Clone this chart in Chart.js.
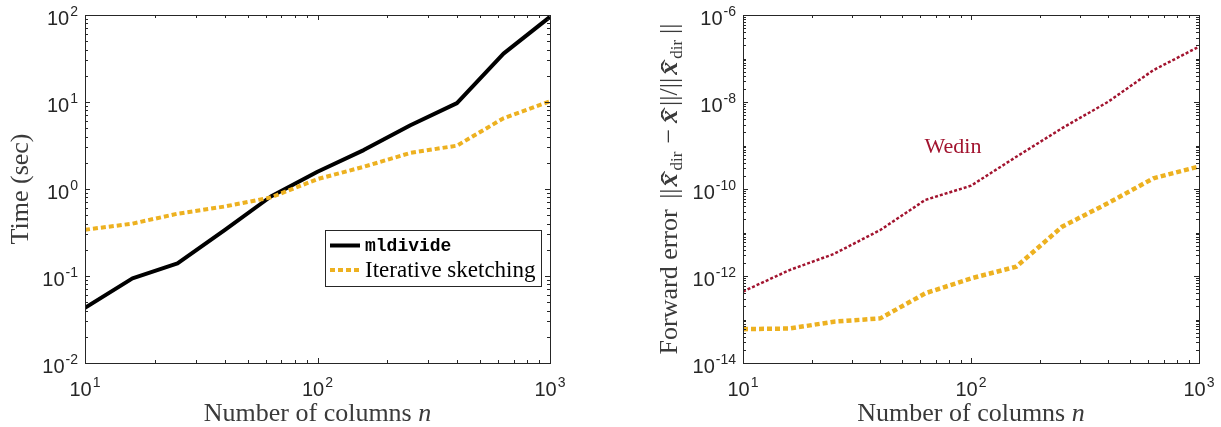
<!DOCTYPE html>
<html><head><meta charset="utf-8">
<script src="https://cdn.jsdelivr.net/npm/chart.js@4.4.0/dist/chart.umd.min.js"></script>
<style>
html,body{margin:0;padding:0;background:#fff;width:1221px;height:427px;overflow:hidden;}
#c1{position:absolute;left:0;top:0;}
#c2{position:absolute;left:610px;top:0;}
</style></head><body>
<canvas id="c1" width="610" height="427"></canvas>
<canvas id="c2" width="611" height="427"></canvas>
<script>
// ---------- data ----------
const columnsN = [10, 16, 25, 40, 63, 100, 158, 251, 398, 631, 1000];
const timeMldivide = [0.043, 0.094, 0.14, 0.34, 0.82, 1.58, 2.8, 5.4, 9.7, 36, 95];
const timeSketching = [0.34, 0.40, 0.52, 0.63, 0.80, 1.3, 1.8, 2.6, 3.15, 6.5, 10.2];
const errWedin = [4.4e-13, 1.37e-12, 3.2e-12, 1.14e-11, 5.6e-11, 1.19e-10, 5.5e-10, 2.5e-9, 1.0e-8, 5.4e-8, 1.87e-7];
const errSketching = [6.0e-14, 6.2e-14, 8.9e-14, 1.06e-13, 4.0e-13, 8.8e-13, 1.64e-12, 1.36e-11, 4.7e-11, 1.76e-10, 3.3e-10];
const xTickExps = [1, 2, 3];
const leftYTickExps = [-2, -1, 0, 1, 2];
const rightYTickExps = [-14, -12, -10, -8, -6];
const seriesLabels = ['mldivide', 'Iterative sketching'];
const annotationText = 'Wedin';

// ---------- styles ----------
const AX = '#262626';
const LBL = '#3a3a3a';
const YELLOW = '#EDB120';
const CRIMSON = '#A2142F';
const SANS = '"Liberation Sans", Arial, Helvetica, sans-serif';
const SERIF = '"Liberation Serif", "Times New Roman", serif';
const MONO = '"Liberation Mono", "DejaVu Sans Mono", monospace';

function pts(ys){ return columnsN.map((n,i)=>({x:n, y:ys[i]})); }

function drawPow(ctx, exp, x, y, align){
  const baseFont = '20px ' + SANS, expFont = '14px ' + SANS;
  const es = String(exp);
  ctx.font = baseFont; const wb = ctx.measureText('10').width;
  ctx.font = expFont; const we = ctx.measureText(es).width;
  const tot = wb + we + 1;
  let x0 = align === 'right' ? x - tot : (align === 'center' ? x - tot/2 : x);
  ctx.textAlign = 'left'; ctx.textBaseline = 'alphabetic';
  ctx.font = baseFont; ctx.fillText('10', x0, y);
  ctx.font = expFont; ctx.fillText(es, x0 + wb + 1, y - 9);
}

function drawRich(ctx, segs, cx, cy, rotate, color){
  let total = 0;
  segs.forEach(s => { ctx.font = s.font; s.w = ctx.measureText(s.t).width + (s.pad||0) + (s.pre||0); total += s.w; });
  ctx.save();
  ctx.translate(cx, cy);
  if (rotate) ctx.rotate(-Math.PI/2);
  ctx.fillStyle = color; ctx.textAlign = 'left'; ctx.textBaseline = 'alphabetic';
  let x = -total/2;
  segs.forEach(s => {
    ctx.font = s.font;
    const gx = x + (s.pre||0);
    ctx.fillText(s.t, gx, s.dy || 0);
    if (s.hat) {
      const gw = ctx.measureText(s.t).width;
      ctx.font = s.hatFont;
      const hw = ctx.measureText('\u02C6').width;
      ctx.save();
      ctx.translate(gx + gw/2 + 2, (s.dy||0) + 2);
      ctx.scale(1.7, 1);
      ctx.fillText('\u02C6', -hw/2, 0);
      ctx.restore();
    }
    x += s.w;
  });
  ctx.restore();
}

function axesPlugin(o){
  return {
    id: 'matlabAxes' + o.key,
    afterDatasetsDraw(chart){
      const ctx = chart.ctx, a = chart.chartArea;
      const xs = chart.scales.x, ys = chart.scales.y;
      ctx.save();
      ctx.strokeStyle = AX; ctx.lineWidth = 1;
      ctx.strokeRect(Math.round(a.left)+0.5, Math.round(a.top)+0.5, Math.round(a.right-a.left), Math.round(a.bottom-a.top));
      ctx.beginPath();
      const xmin = Math.log10(xs.min), xmax = Math.log10(xs.max);
      for (let e = Math.floor(xmin); e <= xmax; e++) {
        for (let m = 1; m <= 9; m++) {
          const v = m * Math.pow(10, e);
          if (v < xs.min*0.999 || v > xs.max*1.001) continue;
          const px = Math.round(xs.getPixelForValue(v)) + 0.5;
          const len = m === 1 ? 5 : 3;
          ctx.moveTo(px, a.bottom); ctx.lineTo(px, a.bottom - len);
          ctx.moveTo(px, a.top); ctx.lineTo(px, a.top + len);
        }
      }
      const ymin = Math.log10(ys.min), ymax = Math.log10(ys.max);
      for (let e = Math.floor(ymin); e <= ymax; e++) {
        for (let m = 1; m <= 9; m++) {
          const v = m * Math.pow(10, e);
          if (v < ys.min*0.999 || v > ys.max*1.001) continue;
          const py = Math.round(ys.getPixelForValue(v)) + 0.5;
          const len = (m === 1 && o.yExps.includes(e)) ? 5 : 3;
          ctx.moveTo(a.left, py); ctx.lineTo(a.left + len, py);
          ctx.moveTo(a.right, py); ctx.lineTo(a.right - len, py);
        }
      }
      ctx.stroke();
      ctx.fillStyle = AX;
      xTickExps.forEach(e => {
        const px = xs.getPixelForValue(Math.pow(10, e));
        drawPow(ctx, e, px, a.bottom + 33, 'center');
      });
      o.yExps.forEach(e => {
        const py = ys.getPixelForValue(Math.pow(10, e));
        drawPow(ctx, e, a.left - 7, py + 10, 'right');
      });
      drawRich(ctx, [
        {t: 'Number of columns ', font: '26px ' + SERIF},
        {t: 'n', font: 'italic 26px ' + SERIF}
      ], (a.left + a.right)/2, 421, false, LBL);
      drawRich(ctx, o.yLabel, o.yLabelX, (a.top + a.bottom)/2, true, LBL);
      if (o.extra) o.extra(chart, ctx, a);
      ctx.restore();
    }
  };
}

function baseOptions(pad, ymin, ymax){
  return {
    animation: false, responsive: false, devicePixelRatio: 1, events: [],
    layout: {padding: pad},
    plugins: {legend: {display: false}, tooltip: {enabled: false}},
    scales: {
      x: {type: 'logarithmic', min: 10, max: 1000, display: false},
      y: {type: 'logarithmic', min: ymin, max: ymax, display: false}
    }
  };
}

// ---------- left chart ----------
const leftChart = new Chart(document.getElementById('c1'), {
  type: 'line',
  data: {datasets: [
    {label: seriesLabels[0], data: pts(timeMldivide), borderColor: '#000000', borderWidth: 4,
     pointRadius: 0, tension: 0, order: 1, borderJoinStyle: 'round'},
    {label: seriesLabels[1], data: pts(timeSketching), borderColor: YELLOW, borderWidth: 4,
     borderDash: [5, 3], pointRadius: 0, tension: 0, order: 0}
  ]},
  options: baseOptions({left: 85, right: 60, top: 15, bottom: 64}, 0.01, 100),
  plugins: [axesPlugin({
    key: 'L', yExps: leftYTickExps, yLabelX: 28,
    yLabel: [{t: 'Time (sec)', font: '26px ' + SERIF}],
    extra(chart, ctx, a){
      const bx = 325.5, by = 230.5, bw = 216, bh = 56;
      ctx.fillStyle = '#fff'; ctx.fillRect(bx, by, bw, bh);
      ctx.strokeStyle = AX; ctx.lineWidth = 1; ctx.strokeRect(bx, by, bw, bh);
      const rows = [245.5, 270];
      chart.data.datasets.forEach((ds, i) => {
        ctx.save();
        ctx.strokeStyle = ds.borderColor; ctx.lineWidth = ds.borderWidth;
        ctx.setLineDash(ds.borderDash || []);
        ctx.beginPath(); ctx.moveTo(330, rows[i]); ctx.lineTo(360, rows[i]); ctx.stroke();
        ctx.restore();
        ctx.fillStyle = '#000'; ctx.textBaseline = 'middle'; ctx.textAlign = 'left';
        ctx.font = i === 0 ? 'bold 18px ' + MONO : '23px ' + SERIF;
        ctx.fillText(ds.label, 365, rows[i] + 1);
      });
    }
  })]
});

// ---------- right chart ----------
const mathX = 'italic bold 26px ' + SERIF;
const rom = '26px ' + SERIF;
const subF = '17px ' + SERIF;
const hatF = '26px ' + SERIF;
const rightChart = new Chart(document.getElementById('c2'), {
  type: 'line',
  data: {datasets: [
    {label: 'Wedin', data: pts(errWedin), borderColor: CRIMSON, borderWidth: 2.5,
     borderDash: [3, 2], pointRadius: 0, tension: 0},
    {label: seriesLabels[1], data: pts(errSketching), borderColor: YELLOW, borderWidth: 4.5,
     borderDash: [5, 3], pointRadius: 0, tension: 0}
  ]},
  options: baseOptions({left: 133, right: 22, top: 15, bottom: 64}, 1e-14, 1e-6),
  plugins: [axesPlugin({
    key: 'R', yExps: rightYTickExps, yLabelX: 677 - 610,
    yLabel: [
      {t: 'Forward error ', font: rom, pad: 4},
      {t: '||', font: rom, pad: 2},
      {t: 'x', font: mathX, hat: true, hatFont: hatF, pad: 3},
      {t: 'dir', font: subF, dy: 5, pad: 8},
      {t: '\u2212', font: rom, pad: 6},
      {t: 'x', font: mathX, hat: true, hatFont: hatF, pad: 4},
      {t: '||/||', font: rom, pad: 3},
      {t: 'x', font: mathX, hat: true, hatFont: hatF, pad: 3},
      {t: 'dir', font: subF, dy: 5, pad: 6},
      {t: '||', font: rom}
    ],
    extra(chart, ctx, a){
      ctx.fillStyle = CRIMSON; ctx.font = '22px ' + SERIF;
      ctx.textAlign = 'center'; ctx.textBaseline = 'alphabetic';
      ctx.fillText(annotationText, 953 - 610, 153);
    }
  })]
});
</script>
</body></html>
